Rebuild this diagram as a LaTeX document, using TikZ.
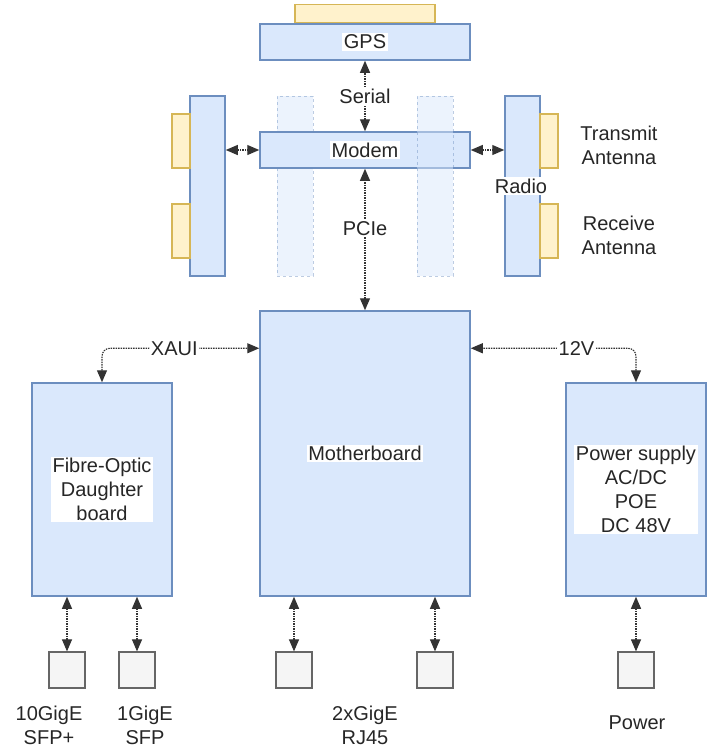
\documentclass[tikz,border=0pt]{standalone}
\usepackage{fontspec}
\setmainfont{Liberation Sans}
\usetikzlibrary{arrows.meta, positioning, calc}
\definecolor{boardfill}{HTML}{DAE8FC}
\definecolor{boardline}{HTML}{6C8EBF}
\definecolor{antfill}{HTML}{FFF2CC}
\definecolor{antline}{HTML}{D6B656}
\definecolor{portfill}{HTML}{F5F5F5}
\definecolor{portline}{HTML}{666666}
\definecolor{wire}{HTML}{333333}
\tikzset{
    board/.style={rectangle, draw=boardline, fill=boardfill, line width=1.5pt, inner sep=0pt},
    plate/.style={rectangle, draw=antline, fill=antfill, line width=1.5pt, inner sep=0pt},
    port/.style={rectangle, draw=portline, fill=portfill, line width=1.2pt, minimum width=36pt, minimum height=36pt, inner sep=0pt},
    ghost/.style={rectangle, draw=boardline, dashed, line width=1pt, fill=boardfill, fill opacity=0.5, draw opacity=0.45, minimum width=36pt, minimum height=180pt, inner sep=0pt},
    lbl/.style={fill=white, inner sep=1.5pt, text=black!85, font=\fontsize{20}{24}\selectfont, align=center},
    txt/.style={inner sep=0pt, text=black!85, font=\fontsize{20}{24}\selectfont, align=center},
    link/.style={draw=wire, line width=1.1pt, dash pattern=on 1.5pt off 1pt, {Triangle[length=12pt,width=10pt]}-{Triangle[length=12pt,width=10pt]}}
}

\begin{document}
\begin{tikzpicture}[x=1pt, y=-1pt]
    \useasboundingbox (0,0) rectangle (714,748);

    % top row: gps, modem, radios
    \node[board, minimum width=210pt, minimum height=36pt, label={[lbl]center:GPS}] (gps) at (365,42) {};
    \node[plate, minimum width=140pt, minimum height=18pt, above=0pt of gps] (gpsant) {};
    \node[ghost] (slotL) at (295,186) {};
    \node[board, minimum width=210pt, minimum height=36pt, label={[lbl]center:Modem}] (modem) at (365,150) {};
    \node[ghost] (slotR) at (435,186) {};

    \node[board, minimum width=35pt, minimum height=180pt] (radioL) at (207.5,186) {};
    \node[plate, minimum width=18pt, minimum height=54pt] (antL1) at (181,141) {};
    \node[plate, minimum width=18pt, minimum height=54pt] (antL2) at (181,231) {};

    \node[board, minimum width=35pt, minimum height=180pt] (radioR) at (522.5,186) {};
    \node[plate, minimum width=18pt, minimum height=54pt] (antR1) at (549,141) {};
    \node[plate, minimum width=18pt, minimum height=54pt] (antR2) at (549,231) {};
    \node[lbl] (radiolbl) at (521,186) {Radio};
    \node[txt] (txlbl) at (619,145) {Transmit\\Antenna};
    \node[txt] (rxlbl) at (619,235) {Receive\\Antenna};

    % main boards
    \node[board, minimum width=210pt, minimum height=285pt, label={[lbl]center:Motherboard}] (mb) at (365,453.5) {};
    \node[board, minimum width=140pt, minimum height=213pt, label={[lbl]center:{Fibre-Optic\\Daughter\\board}}] (fibre) at (102,489.5) {};
    \node[board, minimum width=140pt, minimum height=213pt, label={[lbl]center:{Power supply\\AC/DC\\POE\\DC 48V}}] (psu) at (636,489.5) {};

    % ports
    \node[port] (sfpp) at (67,670) {};
    \node[port] (sfp) at (137,670) {};
    \node[port] (rjA) at (294,670) {};
    \node[port] (rjB) at (435,670) {};
    \node[port] (pwr) at (636,670) {};
    \node[txt] (sfpplbl) at (49,725) {10GigE\\SFP+};
    \node[txt] (sfplbl) at (145,725) {1GigE\\SFP};
    \node[txt] (rjlbl) at (365,725) {2xGigE\\RJ45};
    \node[txt] (pwrlbl) at (637,723) {Power};

    % links
    \draw[link] (modem) -- (gps) node[midway, lbl] {Serial};
    \draw[link] (mb) -- (modem) node[pos=0.58, lbl] {PCIe};
    \draw[link] (radioL.east |- modem) -- (modem.west);
    \draw[link] (modem.east) -- (radioR.west |- modem);
    \draw[link, rounded corners=8pt] (fibre.north) |- ([yshift=-38pt]mb.north west) node[pos=0.73, lbl] {XAUI};
    \draw[link, rounded corners=8pt] (psu.north) |- ([yshift=-38pt]mb.north east) node[pos=0.68, lbl] {12V};
    \foreach \p/\b in {sfpp/fibre, sfp/fibre, rjA/mb, rjB/mb, pwr/psu}
        \draw[link] (\b.south -| \p) -- (\p);
\end{tikzpicture}
\end{document}
